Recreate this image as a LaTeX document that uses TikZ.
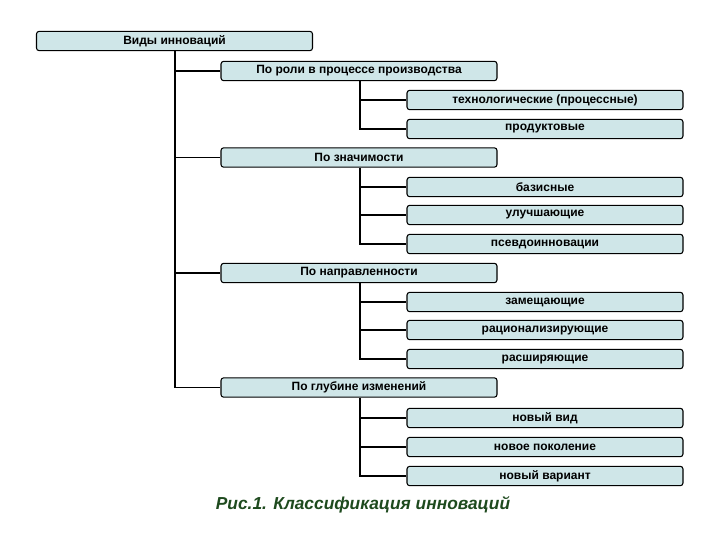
\documentclass[tikz,border=0pt]{standalone}
\usepackage{fontspec}
\setmainfont{Liberation Sans}
\definecolor{boxfill}{HTML}{CFE6E8}
\definecolor{capgreen}{HTML}{1E4A1E}
\begin{document}
\begin{tikzpicture}[x=0.75pt,y=-0.75pt,
  bx/.style={draw=black,line width=0.8pt,fill=boxfill,rounded corners=2pt,minimum height=14.5pt,inner sep=0pt,font=\bfseries\fontsize{9}{10}\selectfont},
  w1/.style={bx,minimum width=207pt},
  ln/.style={line width=1.2pt}]
\useasboundingbox (0,0) rectangle (720,540);
\node[w1] (root) at (174.5,41) {Виды инноваций};
\node[w1] (a) at (359,71) {По роли в процессе производства};
\node[w1] (b) at (359,157.5) {По значимости};
\node[w1] (c) at (359,273) {По направленности};
\node[w1] (d) at (359,387.5) {По глубине изменений};
\node[w1] (a1) at (545,100) {технологические (процессные)};
\node[w1] (a2) at (545,129) {продуктовые};
\node[w1] (b1) at (545,187) {базисные};
\node[w1] (b2) at (545,215) {улучшающие};
\node[w1] (b3) at (545,244) {псевдоинновации};
\node[w1] (c1) at (545,302) {замещающие};
\node[w1] (c2) at (545,330) {рационализирующие};
\node[w1] (c3) at (545,359) {расширяющие};
\node[w1] (d1) at (545,418) {новый вид};
\node[w1] (d2) at (545,447) {новое поколение};
\node[w1] (d3) at (545,476) {новый вариант};
\coordinate (t0) at (175,41);
\draw[ln] (175,0 |- root.south) -- (175,0 |- d.west) -- (d.west);
\foreach \n in {a,b,c}{\draw[ln] (175,0 |- \n.west) -- (\n.west);}
\draw[ln] (360,0 |- a.south) -- (360,0 |- a2.west) -- (a2.west);
\draw[ln] (360,0 |- a1.west) -- (a1.west);
\draw[ln] (360,0 |- b.south) -- (360,0 |- b3.west) -- (b3.west);
\foreach \n in {b1,b2}{\draw[ln] (360,0 |- \n.west) -- (\n.west);}
\draw[ln] (360,0 |- c.south) -- (360,0 |- c3.west) -- (c3.west);
\foreach \n in {c1,c2}{\draw[ln] (360,0 |- \n.west) -- (\n.west);}
\draw[ln] (360,0 |- d.south) -- (360,0 |- d3.west) -- (d3.west);
\foreach \n in {d1,d2}{\draw[ln] (360,0 |- \n.west) -- (\n.west);}
\node[font=\bfseries\itshape\fontsize{13}{15}\selectfont,text=capgreen] (cap) at (363,505) {Рис.1. Классификация инноваций};
\end{tikzpicture}
\end{document}
